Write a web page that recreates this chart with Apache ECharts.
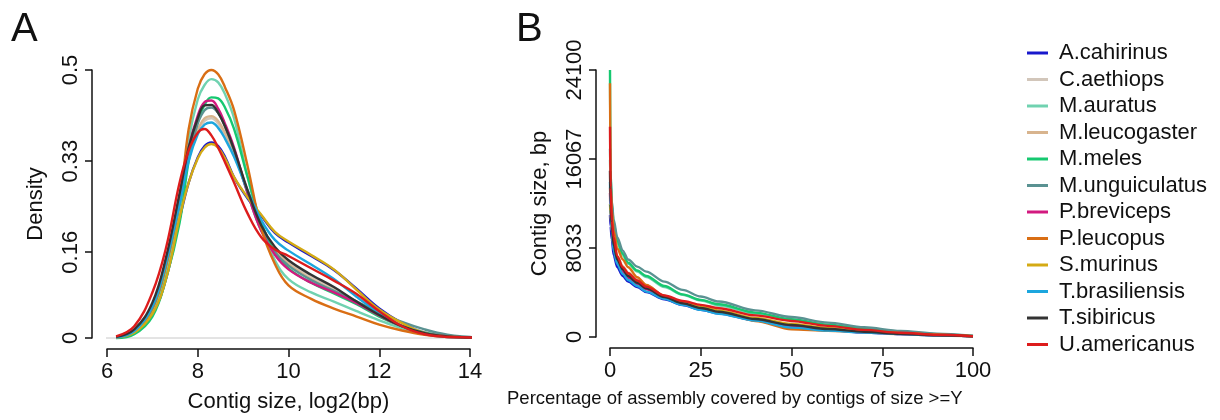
<!DOCTYPE html>
<html lang="en">
<head>
    <meta charset="UTF-8">
    <title>Contig size distributions</title>
    <script src="https://cdn.jsdelivr.net/npm/echarts@6/dist/echarts.min.js"></script>
    <style>
        body { margin: 0; background: #fff; }
        #cc { width: 1220px; height: 420px; }
    </style>
</head>
<body>
<div id="cc"></div>
<script>
var species = ['A.cahirinus', 'C.aethiops', 'M.auratus', 'M.leucogaster', 'M.meles', 'M.unguiculatus',
    'P.breviceps', 'P.leucopus', 'S.murinus', 'T.brasiliensis', 'T.sibiricus', 'U.americanus'];
var colors = ['#1818CC', '#D2C6BA', '#70D2B0', '#D8B48E', '#16C870', '#5A9292',
    '#D2197F', '#D96E14', '#D4AA14', '#1CA6DE', '#333333', '#DD1C1C'];

// panel A: density of log2(contig size)
var densX = [6.2, 6.6, 7.0, 7.3, 7.6, 7.8, 8.0, 8.15, 8.3, 8.45, 8.6, 8.8, 9.1, 9.4, 9.7, 10.0, 10.5, 11.0, 11.5, 12.0, 12.5, 13.0, 13.5, 14.0, 14.3];
var densA_cah = [0.001, 0.010, 0.045, 0.110, 0.222, 0.290, 0.337, 0.358, 0.365, 0.358, 0.338, 0.300, 0.260, 0.228, 0.196, 0.178, 0.153, 0.127, 0.092, 0.055, 0.028, 0.010, 0.003, 0.001, 0];
var densC_aet = [0.001, 0.013, 0.057, 0.138, 0.250, 0.335, 0.385, 0.405, 0.410, 0.400, 0.378, 0.343, 0.272, 0.210, 0.168, 0.142, 0.115, 0.092, 0.068, 0.045, 0.025, 0.011, 0.004, 0.001, 0];
var densM_aur = [0.001, 0.010, 0.050, 0.125, 0.240, 0.370, 0.445, 0.472, 0.483, 0.477, 0.455, 0.410, 0.300, 0.205, 0.145, 0.110, 0.085, 0.068, 0.050, 0.033, 0.018, 0.008, 0.003, 0.001, 0];
var densM_leu = [0.001, 0.012, 0.055, 0.135, 0.248, 0.335, 0.388, 0.410, 0.414, 0.405, 0.383, 0.348, 0.275, 0.210, 0.165, 0.138, 0.110, 0.088, 0.065, 0.043, 0.024, 0.010, 0.004, 0.001, 0];
var densM_mel = [0.000, 0.007, 0.040, 0.110, 0.215, 0.330, 0.405, 0.435, 0.449, 0.447, 0.430, 0.390, 0.300, 0.215, 0.160, 0.130, 0.103, 0.083, 0.063, 0.040, 0.022, 0.010, 0.003, 0.001, 0];
var densM_ung = [0.001, 0.012, 0.055, 0.135, 0.250, 0.340, 0.400, 0.425, 0.430, 0.420, 0.395, 0.350, 0.270, 0.200, 0.160, 0.135, 0.108, 0.088, 0.068, 0.048, 0.030, 0.016, 0.006, 0.002, 0];
var densP_bre = [0.001, 0.014, 0.060, 0.145, 0.265, 0.355, 0.415, 0.440, 0.443, 0.428, 0.400, 0.355, 0.270, 0.200, 0.155, 0.128, 0.103, 0.085, 0.065, 0.042, 0.022, 0.009, 0.003, 0.001, 0];
var densP_leu = [0.001, 0.012, 0.055, 0.135, 0.255, 0.390, 0.465, 0.492, 0.500, 0.492, 0.468, 0.425, 0.320, 0.205, 0.138, 0.098, 0.073, 0.055, 0.040, 0.025, 0.014, 0.006, 0.002, 0.001, 0];
var densS_mur = [0.001, 0.010, 0.045, 0.110, 0.225, 0.290, 0.335, 0.355, 0.362, 0.355, 0.335, 0.300, 0.262, 0.230, 0.198, 0.180, 0.155, 0.128, 0.090, 0.053, 0.028, 0.009, 0.003, 0.001, 0];
var densT_bra = [0.001, 0.013, 0.058, 0.140, 0.250, 0.330, 0.380, 0.398, 0.402, 0.392, 0.372, 0.338, 0.275, 0.220, 0.183, 0.163, 0.137, 0.110, 0.077, 0.047, 0.022, 0.008, 0.002, 0.001, 0];
var densT_sib = [0.002, 0.016, 0.066, 0.150, 0.270, 0.355, 0.410, 0.434, 0.435, 0.420, 0.395, 0.352, 0.275, 0.210, 0.170, 0.145, 0.118, 0.095, 0.068, 0.043, 0.022, 0.009, 0.003, 0.001, 0];
var densU_ame = [0.003, 0.022, 0.085, 0.168, 0.290, 0.350, 0.383, 0.390, 0.378, 0.355, 0.328, 0.290, 0.232, 0.188, 0.165, 0.153, 0.130, 0.107, 0.082, 0.050, 0.022, 0.007, 0.002, 0.001, 0];
var densAll = [densA_cah, densC_aet, densM_aur, densM_leu, densM_mel, densM_ung,
    densP_bre, densP_leu, densS_mur, densT_bra, densT_sib, densU_ame];

// panel B: contig size vs cumulative percentage of assembly
var covX = [0, 0.15, 0.5, 1, 2, 3.5, 5, 7.5, 10, 15, 20, 25, 30, 40, 50, 60, 70, 80, 90, 100];
var covA_cah = [11000, 10000, 8800, 7400, 6300, 5500, 5000, 4500, 4050, 3400, 2880, 2450, 2120, 1500, 950, 620, 410, 260, 150, 60];
var covC_aet = [12500, 11500, 9800, 8300, 7100, 6200, 5600, 5000, 4500, 3650, 3080, 2650, 2300, 1620, 1080, 720, 470, 290, 160, 60];
var covM_aur = [16000, 14000, 11800, 10000, 8500, 7350, 6600, 5900, 5400, 4500, 3800, 3300, 2850, 2100, 1500, 1050, 700, 430, 230, 80];
var covM_leu = [13500, 12000, 10000, 8500, 7300, 6400, 5800, 5250, 4650, 3700, 3100, 2650, 2250, 1550, 1000, 650, 420, 260, 140, 50];
var covM_mel = [24100, 15000, 12000, 10300, 8700, 7500, 6700, 6000, 5500, 4600, 3850, 3350, 2950, 2200, 1600, 1120, 760, 470, 250, 90];
var covM_ung = [17000, 14500, 12300, 10600, 9000, 7800, 7000, 6350, 5900, 5000, 4250, 3650, 3200, 2400, 1800, 1300, 880, 550, 300, 110];
var covP_bre = [13000, 11500, 9700, 8000, 6800, 5900, 5350, 4800, 4300, 3500, 2950, 2520, 2180, 1520, 1000, 660, 430, 270, 150, 60];
var covP_leu = [22900, 14000, 11500, 9600, 8000, 7000, 6300, 5400, 4700, 3700, 3100, 2700, 2300, 1450, 700, 560, 460, 340, 200, 60];
var covS_mur = [12000, 11000, 9600, 8200, 7000, 6200, 5600, 5000, 4500, 3700, 3150, 2720, 2380, 1720, 1180, 800, 540, 350, 190, 70];
var covT_bra = [14000, 11500, 9500, 7800, 6600, 5700, 5150, 4600, 4100, 3450, 2900, 2450, 2100, 1480, 850, 580, 400, 260, 150, 60];
var covT_sib = [15000, 12000, 10000, 8300, 7000, 6100, 5500, 4900, 4400, 3600, 3050, 2620, 2280, 1620, 1080, 720, 470, 290, 160, 60];
var covU_ame = [18980, 13500, 10500, 9000, 7300, 6300, 5750, 5100, 4550, 3750, 3250, 2900, 2600, 1950, 1450, 1000, 640, 380, 200, 70];
var covAll = [covA_cah, covC_aet, covM_aur, covM_leu, covM_mel, covM_ung,
    covP_bre, covP_leu, covS_mur, covT_bra, covT_sib, covU_ame];

var ticksAx = [6, 8, 10, 12, 14];
var ticksAy = [0, 0.16, 0.33, 0.5];
var ticksBx = [0, 25, 50, 75, 100];
var ticksBy = [0, 8033, 16067, 24100];
var baseLineX = [5.67, 14.37];

var font = 'Liberation Sans, Arial, sans-serif';

function zip(xs, ys) {
    return xs.map(function (x, i) { return [x, ys[i]]; });
}

function plain(v) {
    return String(v);
}

function axisX(gridIndex, min, max, ticks, name) {
    return {
        type: 'value', gridIndex: gridIndex, min: min, max: max, offset: 11,
        name: name, nameLocation: 'middle', nameGap: 42, nameMoveOverlap: false,
        nameTextStyle: { fontFamily: font, fontSize: 22, color: '#111' },
        splitLine: { show: false },
        axisLine: { onZero: false, lineStyle: { color: '#111', width: 1.5 } },
        axisTick: { customValues: ticks, length: 8, lineStyle: { color: '#111', width: 1.5 } },
        axisLabel: { customValues: ticks, formatter: plain, margin: 12, fontFamily: font, fontSize: 22, color: '#111' }
    };
}

function axisY(gridIndex, max, ticks, name, offset) {
    return {
        type: 'value', gridIndex: gridIndex, min: 0, max: max, offset: offset,
        name: name, nameLocation: 'middle', nameGap: 45, nameRotate: 90, nameMoveOverlap: false,
        nameTextStyle: { fontFamily: font, fontSize: 22, color: '#111' },
        splitLine: { show: false },
        axisLine: { onZero: false, lineStyle: { color: '#111', width: 1.5 } },
        axisTick: { customValues: ticks, length: 7, lineStyle: { color: '#111', width: 1.5 } },
        axisLabel: { customValues: ticks, formatter: plain, rotate: 90, margin: 10, fontFamily: font, fontSize: 22, color: '#111' }
    };
}

var series = [{
    type: 'line', xAxisIndex: 0, yAxisIndex: 0, silent: true, clip: false, symbol: 'none',
    lineStyle: { color: '#c8c8c8', width: 1 },
    data: zip(baseLineX, [0, 0])
}];

species.forEach(function (name, i) {
    series.push({
        name: name, type: 'line', xAxisIndex: 0, yAxisIndex: 0, clip: false,
        symbol: 'none', smooth: 0.4,
        lineStyle: { color: colors[i], width: 2.4 }, itemStyle: { color: colors[i] },
        data: zip(densX, densAll[i])
    });
});

species.forEach(function (name, i) {
    series.push({
        name: name, type: 'line', xAxisIndex: 1, yAxisIndex: 1, clip: false,
        symbol: 'none', smooth: 0.3, smoothMonotone: 'x',
        lineStyle: { color: colors[i], width: 2.4 }, itemStyle: { color: colors[i] },
        data: zip(covX, covAll[i])
    });
});

var chart = echarts.init(document.getElementById('cc'), null, { renderer: 'canvas' });

chart.setOption({
    animation: false,
    backgroundColor: '#fff',
    textStyle: { fontFamily: font },
    grid: [
        { left: 107, top: 70, width: 363, height: 268 },
        { left: 610, top: 70, width: 363, height: 267 }
    ],
    xAxis: [
        axisX(0, 6, 14, ticksAx, 'Contig size, log2(bp)'),
        axisX(1, 0, 100, ticksBx, '')
    ],
    yAxis: [
        axisY(0, 0.5, ticksAy, 'Density', 15),
        axisY(1, 24100, ticksBy, 'Contig size, bp', 14)
    ],
    legend: {
        data: species,
        orient: 'vertical',
        left: 1027, top: 42,
        padding: 0,
        icon: 'rect', itemWidth: 21, itemHeight: 3, itemGap: 4.5,
        selectedMode: false,
        textStyle: { fontFamily: font, fontSize: 22, color: '#111', padding: [0, 0, 0, 6], lineHeight: 22 }
    },
    graphic: [
        { type: 'text', left: 11, top: 10, style: { text: 'A', font: '40px ' + font, fill: '#111' } },
        { type: 'text', left: 516, top: 10, style: { text: 'B', font: '40px ' + font, fill: '#111' } },
        { type: 'text', left: 507, top: 389, style: { text: 'Percentage of assembly covered by contigs of size >=Y', font: '18.5px ' + font, fill: '#111' } }
    ],
    series: series
});
</script>
</body>
</html>
